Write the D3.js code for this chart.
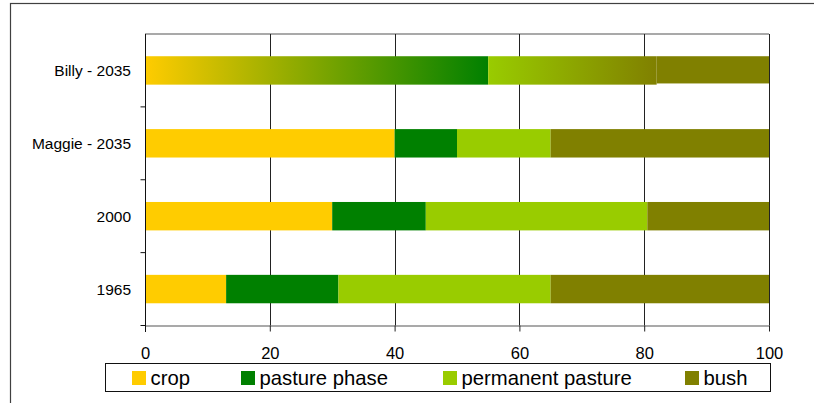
<!DOCTYPE html>
<html>
<head>
<meta charset="utf-8">
<script src="https://cdn.jsdelivr.net/npm/d3@7"></script>
<style>
  html, body { margin: 0; padding: 0; background: #fff; }
  svg { display: block; }
  text { font-family: "Liberation Sans", Arial, sans-serif; fill: #000; }
</style>
</head>
<body>
<svg id="chart" width="814" height="403"></svg>
<script>
// ---- data (top to bottom) ----
const categories = ["Billy - 2035", "Maggie - 2035", "2000", "1965"];
const cropToPasturePhase = [55, 0, 0, 0];      // Billy: gradient crop -> pasture phase
const crop = [0, 40, 30, 13];
const pasturePhase = [0, 10, 15, 18];
const permanentPastureToBush = [27, 0, 0, 0];  // Billy: gradient permanent pasture -> bush
const permanentPasture = [0, 15, 35.5, 34];
const bush = [18, 35, 19.5, 35];
const xTicks = [0, 20, 40, 60, 80, 100];
const legendLabels = ["crop", "pasture phase", "permanent pasture", "bush"];

const colors = {
  crop: "#FFCC00",
  pasturePhase: "#008000",
  permanentPasture: "#99CC00",
  bush: "#808000"
};
const keys = ["cropToPasturePhase", "crop", "pasturePhase", "permanentPastureToBush", "permanentPasture", "bush"];
const fills = {
  cropToPasturePhase: "url(#g1)",
  crop: colors.crop,
  pasturePhase: colors.pasturePhase,
  permanentPastureToBush: "url(#g2)",
  permanentPasture: colors.permanentPasture,
  bush: colors.bush
};
const rows = categories.map((c, i) => ({
  cat: c,
  cropToPasturePhase: cropToPasturePhase[i],
  crop: crop[i],
  pasturePhase: pasturePhase[i],
  permanentPastureToBush: permanentPastureToBush[i],
  permanentPasture: permanentPasture[i],
  bush: bush[i]
}));

const svg = d3.select("#chart");
const W = 814, H = 403;

// gradients
const defs = svg.append("defs");
function grad(id, c1, c2) {
  const g = defs.append("linearGradient").attr("id", id)
    .attr("x1", "0%").attr("x2", "100%").attr("y1", "0%").attr("y2", "0%");
  g.append("stop").attr("offset", "0%").attr("stop-color", c1);
  g.append("stop").attr("offset", "100%").attr("stop-color", c2);
}
grad("g1", colors.crop, colors.pasturePhase);
grad("g2", colors.permanentPasture, colors.bush);

// outer chart border
svg.append("rect").attr("x", 10.5).attr("y", 3.5).attr("width", W + 20).attr("height", H + 20)
  .attr("fill", "none").attr("stroke", "#404040").attr("stroke-width", 1.2);

const plot = { left: 145, right: 769, top: 34, bottom: 325.5 };
const x = d3.scaleLinear().domain([0, 100]).range([plot.left, plot.right]);
const y = d3.scaleBand().domain(categories).range([plot.top, plot.bottom])
  .paddingInner(0.61).paddingOuter(0.305);

// plot area top border
svg.append("line").attr("x1", plot.left).attr("x2", plot.right)
  .attr("y1", plot.top).attr("y2", plot.top)
  .attr("stroke", "#8c8c8c").attr("stroke-width", 1.5);

// gridlines
svg.append("g").selectAll("line").data(xTicks.filter(d => d > 0)).join("line")
  .attr("x1", d => Math.round(x(d)) + 0.5).attr("x2", d => Math.round(x(d)) + 0.5)
  .attr("y1", plot.top).attr("y2", plot.bottom)
  .attr("stroke", "#222").attr("stroke-width", 1);

// bars
const series = d3.stack().keys(keys)(rows);
svg.append("g").selectAll("g").data(series).join("g")
  .attr("fill", s => fills[s.key])
  .selectAll("rect").data(s => s.map(d => ({ d, key: s.key }))).join("rect")
  .filter(o => o.d[1] - o.d[0] > 0)
  .attr("x", o => x(o.d[0]))
  .attr("width", o => x(o.d[1]) - x(o.d[0]))
  .attr("y", o => y(o.d.data.cat))
  .attr("height", o => y.bandwidth() - (o.key === "bush" && o.d.data.cat === "Billy - 2035" ? 1.2 : 0));

// x axis
const xAxis = svg.append("g").attr("transform", `translate(0,${plot.bottom})`)
  .call(d3.axisBottom(x).tickValues(xTicks).tickSize(6).tickSizeOuter(0));
xAxis.select(".domain").attr("stroke", "#555").attr("stroke-width", 1.2);
xAxis.selectAll(".tick line").attr("stroke", "#222");
xAxis.selectAll(".tick text").attr("y", 33.5).attr("dy", null)
  .style("font-size", "16.5px").style("font-family", "'Liberation Sans', Arial, sans-serif").attr("fill", "#000");

// y axis
const yAxis = svg.append("g").attr("transform", `translate(${plot.left},0)`)
  .call(d3.axisLeft(y).tickSize(0).tickPadding(14));
yAxis.select(".domain").remove();
yAxis.selectAll(".tick text").attr("dy", "0.36em")
  .style("font-size", "15.5px").style("font-family", "'Liberation Sans', Arial, sans-serif").attr("fill", "#000");
svg.append("line").attr("x1", plot.left + 0.5).attr("x2", plot.left + 0.5)
  .attr("y1", plot.top).attr("y2", plot.bottom + 6.5).attr("stroke", "#111").attr("stroke-width", 1);
// category boundary ticks
const bounds = categories.map((c, i) => plot.top + y.step() * (i + 1));
svg.append("g").selectAll("line").data(bounds).join("line")
  .attr("x1", plot.left - 4.5).attr("x2", plot.left)
  .attr("y1", d => d).attr("y2", d => d)
  .attr("stroke", "#111");

// legend
const lg = svg.append("g");
lg.append("rect").attr("x", 105.5).attr("y", 363.5).attr("width", 665).attr("height", 28)
  .attr("fill", "#fff").attr("stroke", "#111").attr("stroke-width", 1);
const legendColors = [colors.crop, colors.pasturePhase, colors.permanentPasture, colors.bush];
const legendX = [132, 241, 443, 685];
legendLabels.forEach((lbl, i) => {
  lg.append("rect").attr("x", legendX[i]).attr("y", 371).attr("width", 14).attr("height", 14)
    .attr("fill", legendColors[i]);
  lg.append("text").attr("x", legendX[i] + 18.5).attr("y", 385.3)
    .style("font-size", "20.3px").text(lbl);
});
</script>
</body>
</html>
